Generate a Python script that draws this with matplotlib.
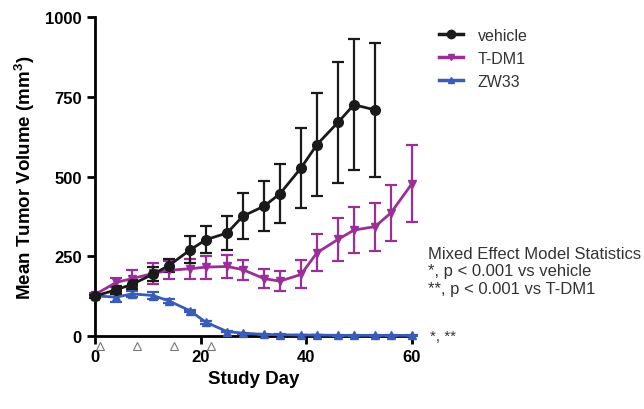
import matplotlib
matplotlib.use("Agg")
import matplotlib.pyplot as plt
from matplotlib.lines import Line2D

plt.rcParams['font.family'] = ['Liberation Sans', 'DejaVu Sans']

days = [0, 4, 7, 11, 14, 18, 21, 25, 28, 32, 35, 39, 42, 46, 49, 53, 56, 60]
vehicle_days = days[:16]
vehicle = [125, 145, 162, 194, 221, 270, 302, 323, 376, 407, 446, 527, 600, 670, 725, 709]
vehicle_err = [5, 12, 15, 23, 21, 42, 43, 53, 72, 78, 92, 125, 161, 190, 205, 210]
tdm1 = [130, 168, 180, 196, 206, 211, 216, 218, 208, 180, 172, 193, 261, 303, 332, 343, 386, 478]
tdm1_err = [5, 15, 27, 32, 28, 32, 36, 36, 31, 30, 31, 44, 58, 67, 73, 75, 88, 120]
zw33 = [126, 122, 132, 127, 110, 79, 43, 14, 9, 5, 4, 3, 3, 2, 2, 2, 2, 2]
zw33_err = [3, 15, 10, 11, 5, 4, 4, 2, 2, 1, 1, 1, 1, 1, 1, 1, 1, 1]
dose_days = [1, 8, 15, 22]
labels = ['vehicle', 'T-DM1', 'ZW33']
colors = ['#1a1a1a', '#9a2f98', '#3a5cb8']
markers = ['o', 'v', '^']

fig = plt.figure(figsize=(6.44, 4.10), dpi=100)
ax = fig.add_axes([0.1475, 0.178, 0.4923, 0.778])

series = [(vehicle_days, vehicle, vehicle_err, 7),
          (days, tdm1, tdm1_err, 6),
          (days, zw33, zw33_err, 6)]
for i in [2, 1, 0]:
    x, y, e, ms = series[i]
    ax.errorbar(x, y, yerr=e, color=colors[i], marker=markers[i], markersize=ms,
                lw=2, elinewidth=1.6, capsize=4, capthick=1.6, clip_on=False,
                zorder=3)

ax.plot(dose_days, [-30] * len(dose_days), linestyle='none', marker='^',
        markersize=6, markerfacecolor='white', markeredgecolor='#777777',
        markeredgewidth=0.8, clip_on=False)

ax.set_xlim(0, 60)
ax.set_ylim(0, 1000)
ax.set_xticks([0, 20, 40, 60])
ax.set_yticks([0, 250, 500, 750, 1000])
for s in ['top', 'right']:
    ax.spines[s].set_visible(False)
for s in ['left', 'bottom']:
    ax.spines[s].set_linewidth(2)
ax.tick_params(width=2, length=6, labelsize=12)
for t in ax.get_xticklabels() + ax.get_yticklabels():
    t.set_fontweight('bold')
ax.set_xlabel('Study Day', fontsize=13.5, fontweight='bold', labelpad=4)
ax.set_ylabel('Mean Tumor Volume (mm$^\\mathregular{3}$)', fontsize=13.5,
              fontweight='bold', labelpad=6)

handles = [Line2D([], [], color=c, marker=m, markersize=ms, lw=2.5)
           for c, m, ms in zip(colors, markers, [6, 5, 5])]
leg = ax.legend(handles=handles, labels=labels, loc='upper left',
                bbox_to_anchor=(0.66, 0.965), bbox_transform=fig.transFigure,
                frameon=False, fontsize=11.5, handlelength=1.5,
                labelspacing=0.5, handletextpad=0.9)
for t in leg.get_texts():
    t.set_color('#333333')

fig.text(0.664, 0.398, 'Mixed Effect Model Statistics\n*, p < 0.001 vs vehicle\n**, p < 0.001 vs T-DM1',
         fontsize=12, color='#333333', va='top', ha='left', linespacing=1.2)
fig.text(0.668, 0.178, '*, **', fontsize=11, color='#333333', va='center', ha='left')

fig.savefig('out.png', dpi=100)
